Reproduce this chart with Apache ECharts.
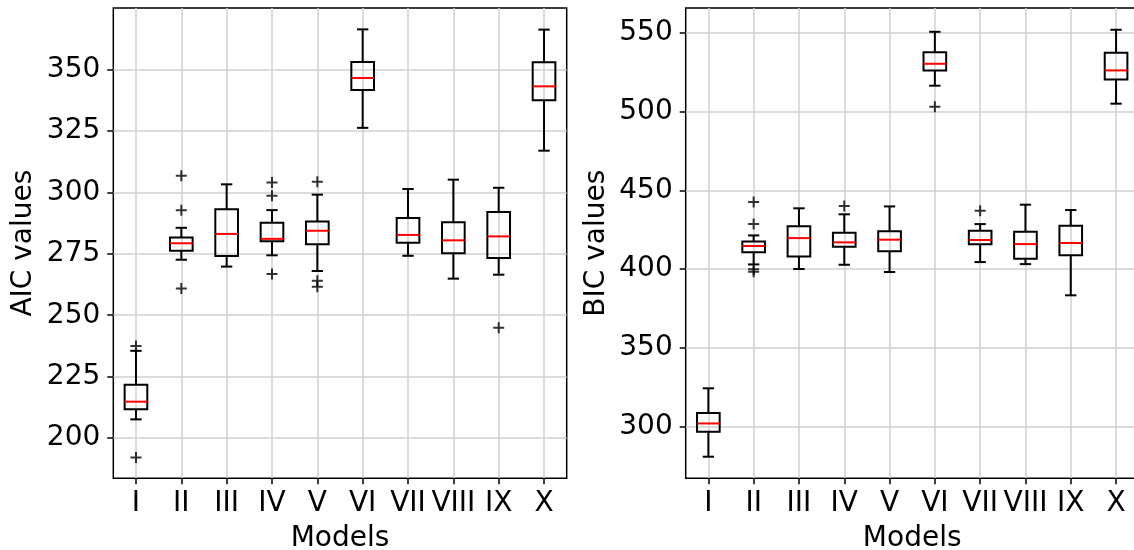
<!DOCTYPE html>
<html>
<head>
<meta charset="utf-8">
<script src="https://cdn.jsdelivr.net/npm/echarts@6/dist/echarts.min.js"></script>
<style>
  html, body { margin: 0; padding: 0; background: #fff; }
  #chart { width: 1134px; height: 550px; }
</style>
</head>
<body>
<div id="chart"></div>
<script>
// Model names shown on both x axes
const categories = ['I', 'II', 'III', 'IV', 'V', 'VI', 'VII', 'VIII', 'IX', 'X'];

// Box summaries per model: [lower whisker, Q1, median, Q3, upper whisker]
const aicStats = [
  [207.6, 211.7, 214.8, 221.7, 235.5],
  [272.6, 276.3, 279.3, 281.7, 285.6],
  [269.8, 274.1, 283.1, 293.2, 303.3],
  [274.4, 280.1, 281.1, 287.7, 292.8],
  [268.0, 278.9, 284.4, 288.2, 299.1],
  [326.3, 341.7, 346.6, 353.1, 366.4],
  [274.2, 279.5, 282.7, 289.6, 301.4],
  [264.9, 275.2, 280.5, 287.9, 305.2],
  [266.5, 273.3, 282.1, 292.0, 301.9],
  [317.0, 337.5, 343.2, 353.0, 366.3]
];
// Outliers: [model index (0-based), value]
const aicOutliers = [
  [0, 237.5], [0, 192.1],
  [1, 306.8], [1, 292.7], [1, 260.9],
  [3, 304.0], [3, 298.7], [3, 266.8],
  [4, 304.4], [4, 264.0], [4, 261.6],
  [8, 244.9]
];

const bicStats = [
  [281.0, 296.8, 302.1, 308.7, 324.4],
  [403.0, 410.7, 414.7, 417.6, 421.4],
  [400.1, 408.1, 419.7, 427.2, 438.6],
  [402.8, 414.2, 417.0, 423.1, 434.8],
  [398.2, 411.3, 418.7, 424.0, 439.8],
  [516.4, 526.1, 530.3, 537.6, 550.6],
  [404.5, 415.8, 418.5, 424.4, 428.6],
  [403.2, 406.6, 415.9, 423.7, 440.9],
  [383.4, 408.8, 416.6, 427.5, 437.5],
  [505.0, 520.4, 526.1, 537.3, 551.9]
];
const bicOutliers = [
  [1, 442.6], [1, 428.6], [1, 400.0], [1, 398.3],
  [3, 440.0],
  [5, 503.0],
  [6, 437.1]
];

// Tick values and visible ranges of the y axes
const aicTicks = [200, 225, 250, 275, 300, 325, 350];
const bicTicks = [300, 350, 400, 450, 500, 550];
const aicRange = [183.6, 375.1];
const bicRange = [267.3, 565.7];

const FONT = 'DejaVu Sans';
const FONT_SIZE = 28;
const catPositions = categories.map((c, i) => i + 1);

function boxData(stats) {
  return stats.map((s, i) => [i + 1].concat(s));
}
function outlierData(list) {
  return list.map(d => [d[0] + 1, d[1]]);
}

// Box with Q1..Q3 rectangle, red median, whiskers ending in half-width caps
function renderBox(params, api) {
  const x = api.value(0);
  const lo = api.coord([x, api.value(1)]);
  const q1 = api.coord([x, api.value(2)]);
  const md = api.coord([x, api.value(3)]);
  const q3 = api.coord([x, api.value(4)]);
  const hi = api.coord([x, api.value(5)]);
  const boxW = api.size([0.5, 0])[0];
  const capW = boxW / 2;
  const cx = lo[0];
  const blk = { stroke: '#000', lineWidth: 2, fill: null };
  return {
    type: 'group',
    children: [
      { type: 'line', shape: { x1: cx, y1: q1[1], x2: cx, y2: lo[1] }, style: blk },
      { type: 'line', shape: { x1: cx, y1: q3[1], x2: cx, y2: hi[1] }, style: blk },
      { type: 'line', shape: { x1: cx - capW / 2, y1: lo[1], x2: cx + capW / 2, y2: lo[1] }, style: blk },
      { type: 'line', shape: { x1: cx - capW / 2, y1: hi[1], x2: cx + capW / 2, y2: hi[1] }, style: blk },
      { type: 'rect', shape: { x: cx - boxW / 2, y: q3[1], width: boxW, height: q1[1] - q3[1] }, style: { stroke: '#000', lineWidth: 2, fill: 'transparent' } },
      { type: 'line', shape: { x1: cx - boxW / 2, y1: md[1], x2: cx + boxW / 2, y2: md[1] }, style: { stroke: '#ff0000', lineWidth: 2 } }
    ]
  };
}

const plusSymbol = 'path://M0,-5 L0,5 M-5,0 L5,0';

function xAxisFor(gridIndex) {
  return {
    type: 'value', gridIndex, min: 0.5, max: 10.5,
    name: 'Models', nameLocation: 'middle', nameGap: 46,
    nameTextStyle: { fontFamily: FONT, fontSize: FONT_SIZE, color: '#000' },
    axisLine: { show: false },
    axisTick: { show: true, customValues: catPositions, length: 6, lineStyle: { color: '#000', width: 1.5 } },
    axisLabel: {
      customValues: catPositions, margin: 11,
      fontFamily: FONT, fontSize: FONT_SIZE, color: '#000',
      formatter: v => categories[Math.round(v) - 1] || ''
    },
    splitLine: { show: true, lineStyle: { color: '#d0d0d0', width: 1.5 } }
  };
}
function yAxisFor(gridIndex, name, range, ticks, gap) {
  return {
    type: 'value', gridIndex, min: range[0], max: range[1],
    name, nameLocation: 'middle', nameGap: gap, nameRotate: 90,
    nameTextStyle: { fontFamily: FONT, fontSize: FONT_SIZE, color: '#000' },
    axisLine: { show: false },
    axisTick: { show: true, customValues: ticks, length: 6, lineStyle: { color: '#000', width: 1.5 } },
    axisLabel: { customValues: ticks, margin: 13, fontFamily: FONT, fontSize: FONT_SIZE, color: '#000' },
    splitLine: { show: true, lineStyle: { color: '#d0d0d0', width: 1.5 } }
  };
}

const gridBase = { top: 8, height: 470.3, show: true, borderColor: '#000', borderWidth: 1.5, backgroundColor: '#fff', containLabel: false, outerBoundsMode: 'none' };

const chart = echarts.init(document.getElementById('chart'), null, { renderer: 'canvas' });
chart.setOption({
  animation: false,
  backgroundColor: '#fff',
  grid: [
    Object.assign({ left: 113.3, width: 453.4 }, gridBase),
    Object.assign({ left: 685.7, width: 453 }, gridBase)
  ],
  xAxis: [xAxisFor(0), xAxisFor(1)],
  yAxis: [
    yAxisFor(0, 'AIC values', aicRange, aicTicks, 76),
    yAxisFor(1, 'BIC values', bicRange, bicTicks, 75)
  ],
  series: [
    { type: 'custom', xAxisIndex: 0, yAxisIndex: 0, renderItem: renderBox, data: boxData(aicStats), encode: { x: 0, y: [1, 2, 3, 4, 5] }, silent: true, z: 3 },
    { type: 'custom', xAxisIndex: 1, yAxisIndex: 1, renderItem: renderBox, data: boxData(bicStats), encode: { x: 0, y: [1, 2, 3, 4, 5] }, silent: true, z: 3 },
    { type: 'scatter', xAxisIndex: 0, yAxisIndex: 0, data: outlierData(aicOutliers), symbol: plusSymbol, symbolSize: 11, itemStyle: { color: 'transparent', borderColor: '#000', borderWidth: 2 }, silent: true, z: 4 },
    { type: 'scatter', xAxisIndex: 1, yAxisIndex: 1, data: outlierData(bicOutliers), symbol: plusSymbol, symbolSize: 11, itemStyle: { color: 'transparent', borderColor: '#000', borderWidth: 2 }, silent: true, z: 4 }
  ]
});
</script>
</body>
</html>
